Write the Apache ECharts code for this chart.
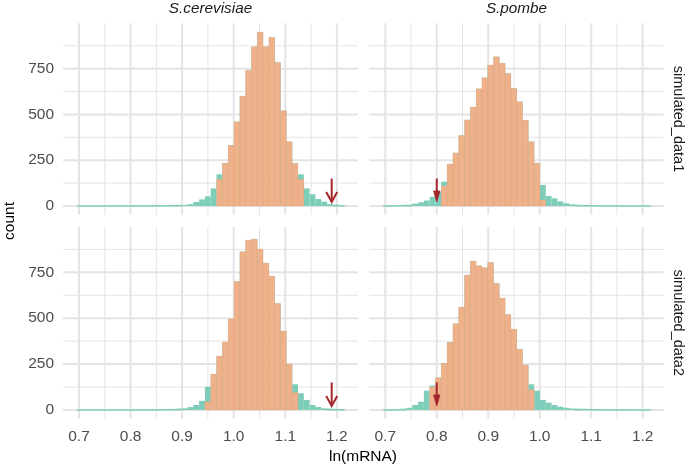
<!DOCTYPE html>
<html><head><meta charset="utf-8">
<script src="https://cdn.jsdelivr.net/npm/echarts@6/dist/echarts.min.js"></script>
<style>html,body{margin:0;padding:0;background:#fff}#c{width:686px;height:469px}</style>
</head><body><div id="c"></div>
<script>
// ---------- data ----------
const species = ['S.cerevisiae', 'S.pombe'];
const datasets = ['simulated_data1', 'simulated_data2'];
const xTitle = 'ln(mRNA)';
const yTitle = 'count';
const xTicks = [0.7, 0.8, 0.9, 1.0, 1.1, 1.2];
const xMinor = [0.75, 0.85, 0.95, 1.05, 1.15];
const yTicks = [0, 250, 500, 750];
const yMinor = [125, 375, 625, 875];
const binStart = 0.696;
const binWidth = 0.01128;

// all cells (teal), 46 bins
const cer1All = [0,0,0,0,0,0,0,1,0,1,1,1,1,2,2,2,3,4,6,10,22,36,53,96,173,233,331,460,600,740,870,950,870,920,784,520,351,233,173,96,64,38,24,11,5,2];
const cer2All = [0,0,0,0,0,0,0,0,0,0,0,1,1,1,2,2,3,5,9,16,27,50,127,196,294,370,496,700,862,925,930,877,800,730,580,430,250,140,91,55,27,16,9,5,3,2];
const pom1All = [1,1,2,3,5,13,20,30,50,78,133,229,290,385,470,540,640,700,770,815,779,724,642,569,469,351,233,115,55,42,25,15,9,5,3,2,2,1,1,0,1,0,0,0,0,0];
const pom2All = [0,1,2,5,12,27,45,105,133,176,254,369,470,560,735,812,786,775,803,690,610,520,440,330,245,140,105,55,40,27,18,12,8,5,4,3,2,2,1,1,1,0,1,0,0,0];
// central cells (orange)
const cer1Mid = [0,0,0,0,0,0,0,0,0,0,0,0,0,0,0,0,0,0,0,0,0,0,0,0,146,233,331,460,600,740,870,950,870,920,784,520,351,233,146,0,0,0,0,0,0,0];
const cer2Mid = [0,0,0,0,0,0,0,0,0,0,0,0,0,0,0,0,0,0,0,0,0,0,45,196,294,370,496,700,862,925,930,877,800,730,580,430,250,95,0,0,0,0,0,0,0,0];
const pom1Mid = [0,0,0,0,0,0,0,0,0,0,110,229,290,385,470,540,640,700,770,815,779,724,642,569,469,351,233,33,0,0,0,0,0,0,0,0,0,0,0,0,0,0,0,0,0,0];
const pom2Mid = [0,0,0,0,0,0,0,0,125,176,254,369,470,560,735,812,786,775,803,690,610,520,440,330,245,110,0,0,0,0,0,0,0,0,0,0,0,0,0,0,0,0,0,0,0,0];
// arrows (x per species, y from / to)
const arrowX = [1.19, 0.8];
const arrowFrom = 150;
const arrowTo = 22;

// ---------- layout / style ----------
const xMin = 0.669, xMax = 1.241, yMin = -47.5, yMax = 997.5;
const boxes = [
  {left: 63, top: 23.3, width: 295, height: 191.4},
  {left: 369.3, top: 23.3, width: 294.5, height: 191.4},
  {left: 63, top: 226.9, width: 295, height: 191.8},
  {left: 369.3, top: 226.9, width: 294.5, height: 191.8}
];
const panelAll = [cer1All, pom1All, cer2All, pom2All];
const panelMid = [cer1Mid, pom1Mid, cer2Mid, pom2Mid];
const FONT = '"Liberation Sans", Arial, sans-serif';
const TEAL = '#7ECDBA', ORANGE = '#EFB18A', ARROW = '#A4262C';

const gridData = [];
xTicks.forEach(v => gridData.push([v, 500, 0]));
xMinor.forEach(v => gridData.push([v, 500, 1]));
yTicks.forEach(v => gridData.push([0.95, v, 2]));
yMinor.forEach(v => gridData.push([0.95, v, 3]));

function renderGrid(params, api) {
  const cs = params.coordSys;
  const kind = api.value(2);
  const p = api.coord([api.value(0), api.value(1)]);
  const lw = (kind === 0 || kind === 2) ? 2 : 1;
  const shape = kind < 2
    ? {x1: p[0], y1: cs.y, x2: p[0], y2: cs.y + cs.height}
    : {x1: cs.x, y1: p[1], x2: cs.x + cs.width, y2: p[1]};
  return {type: 'line', shape: shape, style: {stroke: '#E4E4E4', lineWidth: lw}};
}
function binsOf(arr) {
  return arr.map((c, i) => [binStart + i * binWidth, binStart + (i + 1) * binWidth, c]);
}
function makeBarRender(fill, stroke, lw, isTeal) {
  return function (params, api) {
    const c = api.value(2);
    if (!isTeal && c === 0) return null;
    const a = api.coord([api.value(0), c]);
    const b = api.coord([api.value(1), 0]);
    // teal: outline only where the bar is (nearly) flat, giving the baseline trace
    const w = isTeal ? (c < 6 ? lw : 0) : lw;
    return {type: 'rect', shape: {x: a[0], y: a[1], width: b[0] - a[0], height: b[1] - a[1]},
      style: {fill: fill, stroke: w > 0 ? stroke : null, lineWidth: w}};
  };
}
function makeArrowRender(closed) {
  return function (params, api) {
    const a = api.coord([api.value(0), api.value(1)]);
    const b = api.coord([api.value(0), api.value(2)]);
    const children = [];
    if (closed) {
      children.push({type: 'line', shape: {x1: a[0], y1: a[1], x2: b[0], y2: b[1] - 9}, style: {stroke: ARROW, lineWidth: 2}});
      children.push({type: 'polygon', shape: {points: [[b[0] - 3.2, b[1] - 11], [b[0], b[1]], [b[0] + 3.2, b[1] - 11]]}, style: {fill: ARROW, stroke: ARROW, lineWidth: 0.8}});
    } else {
      children.push({type: 'line', shape: {x1: a[0], y1: a[1], x2: b[0], y2: b[1]}, style: {stroke: ARROW, lineWidth: 2}});
      children.push({type: 'polyline', shape: {points: [[b[0] - 5.5, b[1] - 10], [b[0], b[1]], [b[0] + 5.5, b[1] - 10]]}, style: {stroke: ARROW, lineWidth: 2, fill: null}});
    }
    return {type: 'group', children: children};
  };
}

const grid = [], xAxis = [], yAxis = [], series = [];
for (let i = 0; i < 4; i++) {
  grid.push(Object.assign({containLabel: false}, boxes[i]));
  const bottom = i >= 2, left = i % 2 === 0;
  xAxis.push({type: 'value', gridIndex: i, min: xMin, max: xMax,
    axisLine: {show: false}, axisTick: {show: false}, splitLine: {show: false},
    axisLabel: {show: bottom, customValues: xTicks, formatter: v => v.toFixed(1),
      color: '#4D4D4D', fontSize: 15.5, fontFamily: FONT, margin: 10}});
  yAxis.push({type: 'value', gridIndex: i, min: yMin, max: yMax,
    axisLine: {show: false}, axisTick: {show: false}, splitLine: {show: false},
    axisLabel: {show: left, customValues: yTicks, color: '#4D4D4D', fontSize: 15.5, fontFamily: FONT, margin: 9}});
  series.push({type: 'custom', xAxisIndex: i, yAxisIndex: i, z: 1, silent: true,
    encode: {x: 0, y: 1}, data: gridData, renderItem: renderGrid});
  series.push({type: 'custom', xAxisIndex: i, yAxisIndex: i, z: 2, silent: true,
    encode: {x: [0, 1], y: 2}, data: binsOf(panelAll[i]),
    renderItem: makeBarRender(TEAL, TEAL, 0.9, true)});
  series.push({type: 'custom', xAxisIndex: i, yAxisIndex: i, z: 3, silent: true,
    encode: {x: [0, 1], y: 2}, data: binsOf(panelMid[i]),
    renderItem: makeBarRender(ORANGE, 'rgba(215,145,105,0.35)', 0.5, false)});
  series.push({type: 'custom', xAxisIndex: i, yAxisIndex: i, z: 4, silent: true,
    encode: {x: 0, y: [1, 2]}, data: [[arrowX[i % 2], arrowFrom, arrowTo]],
    renderItem: makeArrowRender(i % 2 === 1)});
}

const graphic = [
  {type: 'text', x: 210.5, y: 8.5, style: {text: species[0], fontSize: 15.3, fontStyle: 'italic', fontFamily: FONT, fill: '#1A1A1A', align: 'center', verticalAlign: 'middle'}},
  {type: 'text', x: 516.5, y: 8.5, style: {text: species[1], fontSize: 15.3, fontStyle: 'italic', fontFamily: FONT, fill: '#1A1A1A', align: 'center', verticalAlign: 'middle'}},
  {type: 'text', x: 678, y: 119, rotation: -Math.PI / 2, style: {text: datasets[0], fontSize: 14.5, fontFamily: FONT, fill: '#1A1A1A', align: 'center', verticalAlign: 'middle'}},
  {type: 'text', x: 678, y: 322.8, rotation: -Math.PI / 2, style: {text: datasets[1], fontSize: 14.5, fontFamily: FONT, fill: '#1A1A1A', align: 'center', verticalAlign: 'middle'}},
  {type: 'text', x: 363, y: 457, style: {text: xTitle, fontSize: 15.5, fontFamily: FONT, fill: '#000', align: 'center', verticalAlign: 'middle'}},
  {type: 'text', x: 10, y: 221, rotation: Math.PI / 2, style: {text: yTitle, fontSize: 15.5, fontFamily: FONT, fill: '#000', align: 'center', verticalAlign: 'middle'}}
];

const chart = echarts.init(document.getElementById('c'), null, {renderer: 'canvas'});
chart.setOption({animation: false, backgroundColor: '#fff', grid, xAxis, yAxis, series, graphic});
</script></body></html>
